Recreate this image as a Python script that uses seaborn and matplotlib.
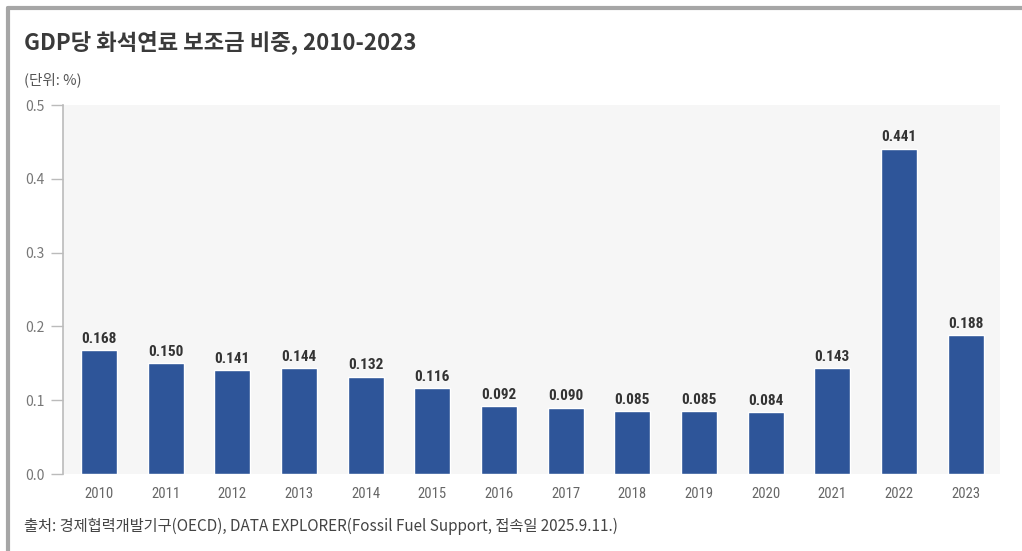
import matplotlib
matplotlib.use("Agg")
import matplotlib.pyplot as plt
from matplotlib import font_manager
import seaborn as sns
import pandas as pd

# Fossil fuel subsidies as a share of GDP (%)
years = ["2010", "2011", "2012", "2013", "2014", "2015", "2016",
         "2017", "2018", "2019", "2020", "2021", "2022", "2023"]
share = [0.168, 0.150, 0.141, 0.144, 0.132, 0.116, 0.092,
         0.090, 0.085, 0.085, 0.084, 0.143, 0.441, 0.188]
y_ticks = [0.0, 0.1, 0.2, 0.3, 0.4, 0.5]

title = "GDP당 화석연료 보조금 비중, 2010-2023"
unit = "(단위: %)"
source = "출처: 경제협력개발기구(OECD), DATA EXPLORER(Fossil Fuel Support, 접속일 2025.9.11.)"

sns.set_theme(style="white")
plt.rcParams["font.family"] = ["Noto Sans CJK KR", "DejaVu Sans"]

# Pick a narrow face for numbers if one is installed
fonts = font_manager.fontManager.ttflist
names = {f.name for f in fonts}
narrow = None
for cand in ["Roboto Condensed", "Liberation Sans Narrow", "DejaVu Sans Condensed",
             "Open Sans Condensed"]:
    if cand in names:
        narrow = {"family": cand, "stretch": "normal"}
        break
if narrow is None and any(f.name == "DejaVu Sans" and f.stretch == "condensed" for f in fonts):
    narrow = {"family": "DejaVu Sans", "stretch": "condensed"}
if narrow is None:
    narrow = {"family": "Roboto", "stretch": "normal"}

df = pd.DataFrame({"year": years, "share": share})

fig = plt.figure(figsize=(10.22, 5.51), dpi=100)
fig.patch.set_facecolor("white")
ax = fig.add_axes([0.0616, 0.1397, 0.9164, 0.6697])
ax.set_facecolor("#f6f6f6")

bar_color = "#2e5599"
sns.barplot(data=df, x="year", y="share", color=bar_color, width=0.54,
            saturation=1, ax=ax)

labels = ax.bar_label(ax.containers[0], fmt="%.3f", padding=3, fontsize=11,
                      fontweight="bold", color="#333333")
for t in labels:
    t.set_family(narrow["family"])
    t.set_fontstretch(narrow["stretch"])

ax.set_ylim(0, 0.5)
ax.set_xlim(-0.54, 13.51)
ax.set_yticks(y_ticks)
ax.set_yticklabels([f"{t:.1f}" for t in y_ticks])
ax.set_xlabel("")
ax.set_ylabel("")

for side in ["top", "right", "bottom"]:
    ax.spines[side].set_visible(False)
ax.spines["left"].set_color("#bbbbbb")
ax.spines["left"].set_linewidth(1.2)

ax.tick_params(axis="y", which="both", left=True, length=9, width=1,
               color="#bbbbbb", labelsize=10, labelcolor="#777777", pad=4)
ax.tick_params(axis="x", bottom=False, labelsize=10.5, labelcolor="#666666", pad=3)
for lbl in ax.get_xticklabels():
    lbl.set_family(narrow["family"])
    lbl.set_fontstretch(narrow["stretch"])

# Title, unit note and source line
fig.text(0.0235, 0.924, title, fontsize=16, fontweight="bold", color="#3a3a3a",
         va="center", ha="left")
fig.text(0.0235, 0.855, unit, fontsize=10.5, color="#555555", va="center", ha="left")
fig.text(0.0235, 0.044, source, fontsize=11, color="#444444", va="center", ha="left")

# Frame lines along the top and left edges
fig.add_artist(plt.Line2D([0.0075, 1.0], [0.985, 0.985], transform=fig.transFigure,
                          color="#a6a6a6", linewidth=3))
fig.add_artist(plt.Line2D([0.0075, 0.0075], [0.0, 0.985], transform=fig.transFigure,
                          color="#a6a6a6", linewidth=3))

fig.savefig("out.png", dpi=100, facecolor="white")
